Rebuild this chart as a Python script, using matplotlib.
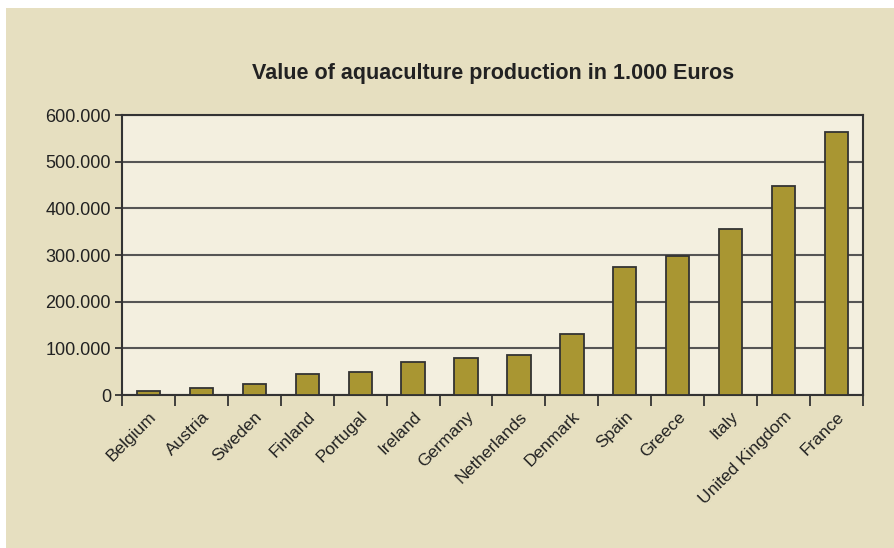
import numpy as np
import matplotlib
matplotlib.use('Agg')
import matplotlib.pyplot as plt
from matplotlib.patches import Rectangle

plt.rcParams['font.family'] = ['Liberation Sans', 'DejaVu Sans']

# Data (1.000 Euros)
countries = ['Belgium', 'Austria', 'Sweden', 'Finland', 'Portugal', 'Ireland', 'Germany',
             'Netherlands', 'Denmark', 'Spain', 'Greece', 'Italy', 'United Kingdom', 'France']
values = [9000, 15000, 24000, 44000, 50000, 71000, 79000,
          85000, 130000, 274000, 297000, 356000, 447000, 563000]
y_ticks = [0, 100000, 200000, 300000, 400000, 500000, 600000]
y_labels = ['0', '100.000', '200.000', '300.000', '400.000', '500.000', '600.000']

bg = '#E6DFC0'
plot_bg = '#F3EFDF'
bar_color = '#A99632'
dark = '#333333'

fig = plt.figure(figsize=(8.95, 5.48), dpi=100, facecolor='white')
# beige panel with white margin on the top and left
fig.patches.append(Rectangle((6 / 895, 0), 1, 1 - 8 / 548, transform=fig.transFigure,
                             facecolor=bg, edgecolor='none', zorder=-10))

ax = fig.add_axes([122 / 895, 1 - 395 / 548, 741 / 895, 280 / 548])
ax.set_facecolor(plot_bg)

x = np.arange(len(countries))
ax.bar(x, values, width=0.44, color=bar_color, edgecolor=dark, linewidth=1.3, zorder=3)

ax.set_xlim(-0.5, len(countries) - 0.5)
ax.set_ylim(0, 600000)
ax.set_yticks(y_ticks)
ax.set_yticklabels(y_labels, fontsize=13, color='#222222')
ax.yaxis.grid(True, color='#555555', linewidth=1.5, zorder=1)
ax.tick_params(axis='y', length=5, width=1.3, color=dark, pad=3)

ax.set_xticks(x)
ax.set_xticklabels(countries, rotation=45, ha='right', rotation_mode='anchor',
                   fontsize=12.5, color='#222222')
ax.tick_params(axis='x', which='major', length=0, pad=10)
ax.set_xticks(np.arange(-0.5, len(countries)), minor=True)
ax.tick_params(axis='x', which='minor', length=8, width=1.3, color=dark)

for side in ['left', 'bottom', 'top', 'right']:
    ax.spines[side].set_color(dark)
    ax.spines[side].set_linewidth(1.5)

fig.text(493 / 895, 1 - 73 / 548, 'Value of aquaculture production in 1.000 Euros',
         ha='center', va='center', fontsize=15.5, fontweight='bold', color='#222222')

fig.savefig('out.png', dpi=100, facecolor='white')
